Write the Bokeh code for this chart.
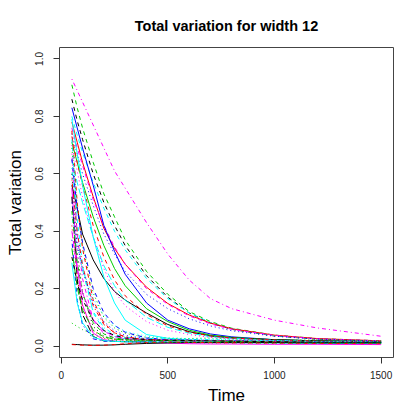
from bokeh.plotting import figure
from bokeh.models import Range1d, FixedTicker, PrintfTickFormatter
from bokeh.embed import file_html
from bokeh.resources import INLINE

# ---- data ----
TIME = [50, 75, 100, 150, 200, 250, 300, 400, 500, 600, 700, 800, 1000, 1200, 1500]
X_TICKS = [0, 500, 1000, 1500]
Y_TICKS = [0.0, 0.2, 0.4, 0.6, 0.8, 1.0]

# slow-decaying runs
s_mag_dd = [0.93, 0.89, 0.85, 0.77, 0.69, 0.61, 0.55, 0.43, 0.32, 0.23, 0.165, 0.13, 0.09, 0.063, 0.034]
s_grn_d = [0.91, 0.83, 0.76, 0.64, 0.53, 0.45, 0.37, 0.26, 0.18, 0.12, 0.085, 0.062, 0.038, 0.026, 0.018]
s_blk_d = [0.86, 0.785, 0.72, 0.60, 0.50, 0.42, 0.35, 0.245, 0.17, 0.115, 0.08, 0.058, 0.035, 0.024, 0.016]
s_cyn_d = [0.80, 0.735, 0.675, 0.57, 0.48, 0.40, 0.335, 0.235, 0.165, 0.115, 0.082, 0.06, 0.036, 0.025, 0.017]
s_red_s = [0.78, 0.71, 0.64, 0.52, 0.41, 0.34, 0.285, 0.205, 0.148, 0.108, 0.08, 0.06, 0.038, 0.026, 0.018]
s_mag_d = [0.76, 0.69, 0.63, 0.51, 0.42, 0.345, 0.285, 0.20, 0.145, 0.105, 0.077, 0.058, 0.037, 0.025, 0.018]
s_blu_dt = [0.74, 0.67, 0.60, 0.49, 0.39, 0.32, 0.26, 0.18, 0.13, 0.095, 0.07, 0.053, 0.034, 0.024, 0.017]
# medium runs
m_blu_s = [0.83, 0.76, 0.69, 0.56, 0.42, 0.33, 0.25, 0.15, 0.09, 0.06, 0.042, 0.032, 0.022, 0.018, 0.015]
m_grn_s = [0.71, 0.64, 0.57, 0.45, 0.35, 0.27, 0.21, 0.13, 0.085, 0.055, 0.038, 0.03, 0.022, 0.018, 0.014]
m_blk_s = [0.56, 0.48, 0.39, 0.30, 0.235, 0.19, 0.16, 0.115, 0.075, 0.05, 0.035, 0.028, 0.022, 0.018, 0.015]
m_cyn_ld = [0.65, 0.57, 0.50, 0.38, 0.28, 0.21, 0.16, 0.10, 0.065, 0.045, 0.033, 0.027, 0.02, 0.016, 0.013]
m_red_d = [0.73, 0.64, 0.56, 0.42, 0.31, 0.23, 0.175, 0.11, 0.07, 0.048, 0.035, 0.028, 0.021, 0.017, 0.014]
m_mag_dt = [0.70, 0.61, 0.52, 0.38, 0.27, 0.19, 0.14, 0.085, 0.055, 0.04, 0.03, 0.025, 0.019, 0.015, 0.013]
m_cyn_s = [0.79, 0.67, 0.56, 0.38, 0.24, 0.15, 0.09, 0.04, 0.027, 0.021, 0.018, 0.016, 0.014, 0.012, 0.011]
# fast runs
f01 = [0.75, 0.50, 0.34, 0.16, 0.08, 0.046, 0.031, 0.022, 0.02, 0.019, 0.018, 0.017, 0.015, 0.013, 0.012]
f02 = [0.72, 0.445, 0.28, 0.115, 0.055, 0.033, 0.025, 0.021, 0.02, 0.019, 0.018, 0.016, 0.014, 0.013, 0.012]
f03 = [0.69, 0.49, 0.35, 0.185, 0.10, 0.063, 0.044, 0.03, 0.027, 0.026, 0.028, 0.024, 0.02, 0.022, 0.018]
f04 = [0.67, 0.39, 0.235, 0.09, 0.043, 0.028, 0.023, 0.02, 0.019, 0.018, 0.017, 0.016, 0.014, 0.012, 0.011]
f05 = [0.65, 0.48, 0.36, 0.20, 0.116, 0.072, 0.048, 0.028, 0.022, 0.02, 0.019, 0.018, 0.016, 0.014, 0.012]
f06 = [0.62, 0.40, 0.265, 0.12, 0.064, 0.04, 0.031, 0.026, 0.025, 0.023, 0.022, 0.02, 0.017, 0.015, 0.013]
f07 = [0.60, 0.33, 0.186, 0.068, 0.034, 0.024, 0.021, 0.02, 0.019, 0.018, 0.017, 0.016, 0.014, 0.012, 0.011]
f08 = [0.58, 0.40, 0.28, 0.14, 0.075, 0.046, 0.032, 0.023, 0.021, 0.02, 0.019, 0.018, 0.016, 0.014, 0.012]
f09 = [0.55, 0.277, 0.143, 0.045, 0.022, 0.017, 0.016, 0.012, 0.01, 0.008, 0.007, 0.007, 0.006, 0.006, 0.005]
f10 = [0.52, 0.235, 0.11, 0.033, 0.018, 0.016, 0.015, 0.015, 0.014, 0.014, 0.013, 0.013, 0.012, 0.011, 0.01]
f11 = [0.50, 0.36, 0.266, 0.147, 0.085, 0.053, 0.037, 0.025, 0.022, 0.021, 0.02, 0.019, 0.017, 0.015, 0.013]
f12 = [0.47, 0.293, 0.186, 0.081, 0.042, 0.028, 0.023, 0.02, 0.02, 0.019, 0.018, 0.017, 0.015, 0.013, 0.012]
f13 = [0.45, 0.347, 0.269, 0.165, 0.106, 0.071, 0.051, 0.034, 0.028, 0.026, 0.024, 0.022, 0.019, 0.016, 0.014]
f14 = [0.42, 0.235, 0.135, 0.053, 0.029, 0.023, 0.021, 0.02, 0.019, 0.018, 0.017, 0.016, 0.014, 0.012, 0.011]
f15 = [0.40, 0.27, 0.185, 0.092, 0.051, 0.034, 0.026, 0.021, 0.02, 0.019, 0.018, 0.017, 0.015, 0.013, 0.012]
f16 = [0.37, 0.159, 0.074, 0.025, 0.017, 0.016, 0.015, 0.015, 0.014, 0.014, 0.013, 0.013, 0.012, 0.011, 0.01]
f17 = [0.34, 0.204, 0.126, 0.055, 0.032, 0.024, 0.021, 0.02, 0.019, 0.018, 0.017, 0.016, 0.014, 0.013, 0.012]
f18 = [0.31, 0.223, 0.162, 0.09, 0.054, 0.037, 0.028, 0.022, 0.02, 0.019, 0.018, 0.017, 0.015, 0.013, 0.012]
f19 = [0.29, 0.15, 0.081, 0.031, 0.019, 0.016, 0.015, 0.014, 0.014, 0.013, 0.013, 0.012, 0.011, 0.01, 0.01]
# near-zero runs
z1 = [0.006, 0.005, 0.004, 0.003, 0.003, 0.004, 0.006, 0.009, 0.011, 0.012, 0.012, 0.012, 0.012, 0.011, 0.011]
z2 = [0.005, 0.004, 0.003, 0.002, 0.003, 0.005, 0.008, 0.012, 0.014, 0.013, 0.012, 0.011, 0.010, 0.009, 0.008]
z3 = [0.08, 0.068, 0.057, 0.04, 0.027, 0.019, 0.015, 0.013, 0.012, 0.012, 0.011, 0.011, 0.01, 0.01, 0.009]

SERIES = [s_mag_dd, s_grn_d, s_blk_d, s_cyn_d, s_red_s, s_mag_d, s_blu_dt,
          m_blu_s, m_grn_s, m_blk_s, m_cyn_ld, m_red_d, m_mag_dt, m_cyn_s,
          f01, f02, f03, f04, f05, f06, f07, f08, f09, f10,
          f11, f12, f13, f14, f15, f16, f17, f18, f19, z1, z2, z3]

# ---- styles ----
BLK, RED, GRN, BLU, CYN, MAG = "#000000", "#FF0000", "#00CD00", "#0000FF", "#00FFFF", "#FF00FF"
SOLID, DASH, DOT, DOTDASH, LONGDASH = "solid", "4 4", "1 3", "1 3 4 3", "7 3"
COLORS = [MAG, GRN, BLK, CYN, RED, MAG, BLU,
          BLU, GRN, BLK, CYN, RED, MAG, CYN,
          RED, CYN, GRN, MAG, BLU, CYN, BLK, RED, MAG, BLK,
          BLU, GRN, CYN, RED, MAG, BLU, GRN, BLK, CYN, BLK, RED, GRN]
DASHES = [DOTDASH, DASH, DASH, DASH, SOLID, DASH, DOT,
          SOLID, SOLID, SOLID, LONGDASH, DASH, DOT, SOLID,
          DASH, DASH, DOT, DOTDASH, DASH, DOTDASH, DOT, DOTDASH, SOLID, LONGDASH,
          DOT, DASH, DOT, DOT, LONGDASH, DOTDASH, LONGDASH, DASH, SOLID, SOLID, DASH, DOT]

FONT = "Liberation Sans"

p = figure(width=407, height=407, output_backend="svg", toolbar_location=None,
           x_range=Range1d(-8, 1558), y_range=Range1d(-0.04, 1.04),
           min_border_left=59, min_border_right=14, min_border_top=47, min_border_bottom=50,
           title="Total variation for width 12")

for ys, c, d in zip(SERIES, COLORS, DASHES):
    p.line(TIME, ys, line_color=c, line_dash=d, line_width=1)

p.title.align = "center"
p.title.text_font = FONT
p.title.text_font_size = "14.5px"
p.title.text_font_style = "bold"
p.title.text_color = "black"
p.title.standoff = 28

p.grid.visible = False
p.outline_line_color = "#444444"
p.outline_line_width = 1
p.background_fill_color = "white"
p.border_fill_color = "white"

p.xaxis.ticker = FixedTicker(ticks=X_TICKS)
p.yaxis.ticker = FixedTicker(ticks=Y_TICKS)
p.yaxis.formatter = PrintfTickFormatter(format="%.1f")
p.xaxis.axis_label = "Time"
p.yaxis.axis_label = "Total variation"
for ax in (p.xaxis, p.yaxis):
    ax.axis_line_color = None
    ax.major_tick_line_color = "#333333"
    ax.major_tick_out = 6
    ax.major_tick_in = 0
    ax.minor_tick_line_color = None
    ax.major_label_text_font = FONT
    ax.major_label_text_font_size = "10px"
    ax.major_label_text_color = "#222222"
    ax.axis_label_text_font = FONT
    ax.axis_label_text_font_size = "17px"
    ax.axis_label_text_font_style = "normal"
    ax.axis_label_text_color = "black"
p.xaxis.major_label_standoff = 7
p.xaxis.axis_label_standoff = 4
p.yaxis.major_label_standoff = 10
p.yaxis.axis_label_standoff = 8
p.yaxis.major_label_orientation = "vertical"

open("out.html", "w").write(file_html(p, INLINE))
